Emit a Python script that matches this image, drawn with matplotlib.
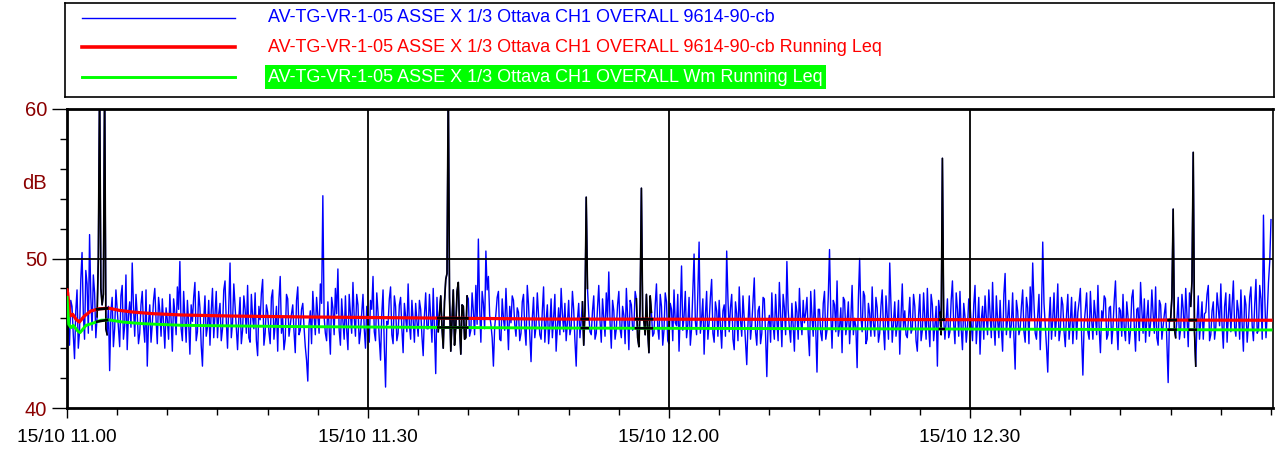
import numpy as np
import matplotlib
matplotlib.use("Agg")
import matplotlib.pyplot as plt
from matplotlib.ticker import MultipleLocator

plt.rcParams["font.family"] = ["Liberation Sans", "DejaVu Sans"]

BLUE, RED, GREEN, MAROON = "#0000ff", "#ff0000", "#00ff00", "#8b0000"

# overall level, one sample every 15 s from 11.00 (dB)
STEP_MIN = 0.25
level_db = [
    47.5, 44.2, 46.8, 43.3, 47.9, 45.1, 50.4, 44.6, 48.3, 51.6, 45.2, 47.7, 46.1, 62.0, 46.9, 62.0, 44.9, 42.5, 47.4, 45.3,
    46.6, 44.1, 48.2, 45.5, 43.9, 47.1, 49.7, 44.8, 46.3, 45.0, 47.8, 44.4, 42.8, 46.9, 45.6, 48.0, 44.3, 46.5, 47.3, 44.0,
    45.9, 47.6, 43.8, 46.4, 48.1, 49.8, 44.5, 46.0, 47.2, 43.6, 45.8, 48.4, 45.1, 46.7, 42.8, 47.5, 45.4, 44.2, 48.0, 46.2,
    44.7, 47.0, 45.3, 48.5, 44.0, 49.7, 45.7, 46.8, 43.9, 47.4, 45.2, 46.6, 48.2, 44.4, 46.1, 47.7, 43.5, 45.9, 48.6, 45.0,
    46.4, 44.3, 47.9, 45.6, 43.8, 48.8, 46.0, 44.6, 47.3, 45.5, 46.9, 43.7, 48.1, 45.2, 47.0, 44.1, 41.8, 46.5, 47.8, 44.9,
    46.2, 48.3, 54.2, 45.0, 47.1, 43.6, 46.7, 48.0, 49.3, 44.2, 45.8, 47.5, 43.9, 46.3, 48.4, 44.8, 46.9, 45.1, 47.6, 44.0,
    45.7, 47.2, 48.8, 44.5, 46.4, 43.2, 47.9, 41.4, 45.6, 48.1, 44.3, 46.8, 45.0, 47.4, 43.7, 46.1, 48.3, 44.6, 45.9, 47.0,
    44.8, 46.6, 43.5, 47.7, 45.3, 46.0, 48.0, 42.3, 45.1, 47.5, 44.0, 48.6, 62.0, 43.8, 47.9, 45.4, 48.4, 43.6, 46.8, 44.7,
    47.3, 45.2, 46.5, 48.2, 51.3, 44.4, 47.0, 50.5, 48.8, 45.6, 42.8, 46.3, 47.8, 44.5, 46.0, 48.0, 43.9, 45.7, 47.2, 44.8,
    46.4, 45.0, 47.6, 44.2, 46.9, 43.1, 47.4, 45.5, 46.2, 44.6, 48.1, 45.8, 44.3, 47.3, 46.0, 43.8, 46.7, 48.0, 45.1, 44.5,
    47.2, 45.4, 46.6, 42.8, 47.0, 45.9, 44.2, 54.1, 46.3, 44.9, 47.5, 45.0, 48.2, 44.4, 46.1, 47.7, 49.1, 44.0, 46.5, 45.3,
    47.8, 44.7, 46.2, 48.0, 43.9, 46.9, 45.4, 47.3, 44.1, 54.7, 45.8, 47.6, 43.7, 46.4, 45.0, 48.3, 44.6, 46.8, 45.2, 47.1,
    44.3, 46.6, 47.9, 45.5, 43.8, 49.5, 46.1, 44.7, 47.4, 45.3, 50.3, 44.9, 51.1, 46.0, 43.6, 47.8, 45.7, 48.6, 44.4, 46.5,
    47.2, 44.0, 46.9, 50.5, 45.1, 47.6, 43.9, 46.3, 48.1, 44.8, 46.0, 42.9, 47.5, 45.6, 48.7, 44.2, 46.8, 45.0, 47.3, 42.1,
    46.2, 47.7, 44.6, 45.9, 48.4, 44.1, 46.7, 49.8, 45.3, 47.0, 43.8, 46.4, 48.0, 44.9, 45.7, 47.4, 43.5, 46.1, 47.9, 42.4,
    46.6, 44.5, 47.8, 45.2, 50.6, 44.0, 46.9, 48.5, 45.4, 43.7, 47.2, 45.8, 44.3, 48.2, 46.0, 42.7, 50.0, 45.1, 47.5, 44.6,
    46.3, 48.1, 44.8, 46.7, 45.0, 47.9, 43.9, 46.2, 49.7, 44.4, 47.1, 45.6, 43.6, 48.3, 46.5, 44.7, 47.4, 45.3, 46.8, 43.8,
    47.6, 45.2, 46.0, 48.0, 44.1, 46.9, 45.5, 42.8, 46.4, 56.7, 44.6, 47.3, 45.1, 48.5, 44.3, 46.6, 47.8, 43.9, 46.1, 45.4,
    47.0, 44.5, 48.2, 45.7, 43.6, 46.8, 47.5, 44.9, 46.3, 48.4, 44.2, 45.9, 47.2, 43.8, 49.0, 46.0, 44.7, 47.7, 42.6, 46.5,
    45.3, 47.9, 44.4, 46.7, 48.1, 49.7, 45.0, 46.2, 43.9, 51.1, 45.6, 42.4, 47.4, 46.0, 44.8, 48.3, 45.2, 46.9, 44.1, 47.6,
    45.8, 44.3, 47.1, 46.4, 48.0, 42.2, 46.6, 45.1, 47.8, 44.6, 46.2, 48.2, 43.7, 45.9, 47.3, 44.9, 46.8, 45.4, 48.5, 43.9,
    46.5, 47.6, 44.5, 46.1, 45.2, 47.9, 43.8, 46.7, 48.4, 45.0, 44.4, 47.2, 45.7, 46.3, 48.1, 44.2, 46.9, 45.5, 47.0, 41.7,
    46.0, 53.3, 44.7, 47.4, 45.3, 46.6, 48.0, 44.1, 46.8, 57.1, 42.8, 47.5, 45.9, 44.6, 46.4, 48.2, 44.9, 47.1, 45.4, 46.7,
    48.3, 44.0, 47.7, 46.2, 45.1, 48.5, 44.8, 46.5, 47.9, 43.8, 46.9, 45.6, 48.1, 44.5, 48.6, 45.2, 47.3, 52.9, 44.7, 48.4,
    52.6,
]
# samples in between (7.5 s after each of the above)
level_db_mid = [
    45.6, 47.2, 44.9, 46.5, 44.0, 48.6, 46.3, 49.2, 45.0, 47.4, 48.9, 44.7, 50.1, 48.0, 47.6, 45.3, 46.8, 46.4, 44.1, 47.9,
    45.2, 47.5, 44.6, 48.9, 46.2, 45.4, 46.8, 47.6, 44.3, 46.9, 45.5, 47.9, 45.7, 44.4, 47.2, 45.9, 47.4, 44.8, 45.6, 46.7,
    44.6, 45.9, 47.3, 44.9, 46.6, 45.3, 47.8, 44.4, 45.7, 46.9, 47.4, 44.5, 47.8, 44.2, 45.9, 44.8, 47.2, 46.5, 44.7, 47.8,
    46.3, 44.5, 47.9, 45.8, 46.9, 44.7, 48.3, 45.2, 46.0, 44.3, 47.5, 45.0, 44.7, 47.6, 45.3, 44.5, 46.8, 47.7, 44.2, 46.9,
    45.1, 47.4, 44.6, 46.8, 47.3, 45.0, 43.9, 47.6, 44.8, 46.3, 45.1, 47.2, 44.9, 46.6, 45.4, 43.2, 45.6, 44.3, 46.2, 47.4,
    45.0, 47.0, 46.1, 44.5, 45.4, 47.4, 44.9, 46.3, 45.2, 47.3, 44.6, 45.2, 47.6, 45.0, 46.1, 47.6, 44.3, 46.4, 45.3, 46.8,
    44.4, 46.6, 45.1, 47.7, 44.6, 46.3, 44.1, 45.8, 47.3, 44.9, 47.5, 44.5, 46.9, 45.3, 47.0, 45.1, 45.6, 47.2, 44.4, 45.8,
    47.2, 44.8, 46.2, 45.3, 47.6, 44.4, 45.2, 47.4, 46.3, 45.4, 47.1, 49.0, 47.4, 45.8, 44.2, 47.8, 45.5, 46.9, 44.6, 47.5,
    44.8, 47.7, 44.9, 45.6, 46.7, 47.8, 45.3, 47.9, 46.2, 44.7, 45.4, 47.4, 44.6, 47.3, 45.2, 45.9, 46.8, 47.5, 45.6, 46.7,
    44.5, 47.1, 45.3, 48.2, 44.9, 46.0, 44.7, 47.7, 44.9, 46.5, 44.4, 46.9, 45.5, 44.7, 47.6, 45.4, 44.9, 46.3, 47.0, 45.7,
    44.9, 47.8, 44.5, 45.9, 44.7, 47.1, 46.5, 48.0, 45.1, 46.5, 44.6, 46.7, 45.8, 47.3, 44.8, 46.0, 45.7, 47.2, 44.6, 46.9,
    45.3, 46.8, 44.3, 46.1, 47.2, 45.2, 47.8, 44.7, 47.0, 46.1, 44.9, 45.2, 47.5, 44.8, 46.9, 45.4, 47.6, 44.2, 47.7, 44.5,
    47.0, 44.5, 45.7, 47.6, 46.4, 45.2, 47.8, 45.6, 44.2, 47.9, 45.8, 47.7, 45.0, 47.3, 46.1, 44.6, 47.4, 45.0, 47.1, 44.8,
    45.5, 46.5, 44.8, 47.3, 46.7, 44.6, 47.1, 44.5, 45.9, 47.5, 44.4, 45.7, 44.6, 47.2, 45.1, 46.5, 44.3, 47.4, 44.9, 45.6,
    44.4, 45.6, 47.6, 44.5, 46.2, 47.6, 44.9, 46.6, 44.4, 45.5, 47.1, 44.6, 45.9, 47.2, 46.4, 45.0, 47.8, 44.8, 45.3, 46.6,
    45.0, 47.0, 44.6, 47.5, 46.3, 47.2, 45.1, 44.8, 46.7, 47.4, 44.9, 47.1, 46.0, 44.9, 45.4, 47.3, 46.1, 47.8, 44.3, 47.0,
    44.8, 45.7, 47.4, 44.4, 46.8, 45.3, 47.5, 44.6, 46.9, 45.7, 44.8, 47.2, 46.1, 45.3, 44.9, 46.1, 45.0, 47.6, 44.5, 46.2,
    44.5, 47.7, 44.6, 45.5, 47.6, 44.5, 46.8, 47.2, 44.9, 46.0, 45.8, 44.7, 47.2, 45.6, 47.7, 44.8, 45.3, 47.0, 44.4, 47.3,
    45.6, 46.9, 44.3, 47.4, 45.9, 44.6, 46.1, 47.9, 44.7, 45.6, 47.5, 44.7, 45.3, 47.6, 44.9, 47.2, 45.6, 44.8, 47.2, 44.9,
    46.8, 45.1, 47.4, 44.3, 45.9, 47.0, 44.6, 47.6, 46.4, 47.0, 44.1, 45.8, 44.6, 47.7, 46.1, 44.5, 47.4, 45.1, 46.3, 44.6,
    47.4, 45.9, 44.6, 47.1, 44.8, 45.6, 47.7, 44.6, 45.9, 47.2, 44.9, 45.3, 46.5, 47.5, 44.6, 46.7, 44.3, 47.2, 45.5, 46.7,
    44.8, 45.3, 47.1, 44.3, 47.4, 45.4, 46.6, 44.5, 46.6, 47.3, 46.0, 44.8, 47.9, 45.0, 44.7, 47.2, 44.6, 46.3, 44.4, 45.8,
    47.4, 45.3, 45.9, 44.6, 47.6, 44.7, 46.2, 47.7, 48.5, 45.1, 45.8, 44.6, 47.1, 46.3, 47.6, 44.5, 46.5, 44.6, 47.7, 45.5,
    45.5, 46.8, 44.4, 47.6, 46.9, 45.4, 47.2, 44.6, 45.6, 47.5, 44.4, 47.4, 45.5, 46.9, 45.0, 48.2, 44.6, 47.5, 46.3, 49.8,
]

# running Leq curves (minutes from 11.00, dB)
red_t = [0, 0.07, 0.3, 0.57, 0.9, 1.23, 1.73, 2.39, 3.22, 4.22, 5.22, 6.55, 8.54, 11.5, 16.5, 23.8, 47.8, 71.7, 95.6, 120]
red_leq = [47.9, 47.7, 46.15, 46.27, 45.93, 45.75, 46.15, 46.49, 46.64, 46.67, 46.53, 46.42, 46.31, 46.22, 46.15, 46.09,
           45.95, 45.93, 45.9, 45.87]
green_t = [0, 0.17, 0.4, 0.63, 1.07, 1.3, 1.9, 2.56, 3.39, 4.22, 5.55, 7.55, 11.5, 16.5, 23.8, 47.8, 71.7, 95.6, 120]
green_leq = [47.4, 45.6, 45.38, 45.53, 45.15, 45.04, 45.53, 45.67, 45.87, 45.89, 45.75, 45.64, 45.53, 45.49, 45.44,
             45.35, 45.31, 45.27, 45.22]

# marked events (drawn in black), minutes from 11.00
event_start = [3.0, 37.0, 51.3, 56.7, 87.0, 109.8, 111.9]
event_end = [4.0, 39.9, 51.9, 58.3, 87.4, 110.5, 112.5]

tick_min = [0, 30, 60, 90]
tick_lbl = ["15/10 11.00", "15/10 11.30", "15/10 12.00", "15/10 12.30"]
legend_lbl = ["AV-TG-VR-1-05 ASSE X 1/3 Ottava CH1 OVERALL 9614-90-cb",
              "AV-TG-VR-1-05 ASSE X 1/3 Ottava CH1 OVERALL 9614-90-cb Running Leq",
              "AV-TG-VR-1-05 ASSE X 1/3 Ottava CH1 OVERALL Wm Running Leq"]

t_main = np.arange(len(level_db)) * STEP_MIN
t_mid = (np.arange(len(level_db_mid)) + 0.5) * STEP_MIN
t = np.concatenate([t_main, t_mid])
lv = np.concatenate([level_db, level_db_mid]).astype(float)
order = np.argsort(t)
t, lv = t[order], lv[order]

mask = np.zeros(len(t), bool)
for s, e in zip(event_start, event_end):
    mask |= (t >= s) & (t <= e)
ev = np.where(mask, lv, np.nan)

W, H = 1276, 450
fig = plt.figure(figsize=(W / 100, H / 100), dpi=100)
ax = fig.add_axes([67 / W, 1 - 408 / H, (1273 - 67) / W, (408 - 109) / H])

ax.plot(t, lv, color=BLUE, lw=1.0, zorder=2)
ax.plot(t, ev, color="black", lw=1.2, zorder=3)
for v in [30, 60, 90]:
    ax.axvline(v, color="black", lw=1.3, zorder=4)
ax.axhline(50, color="black", lw=1.3, zorder=4)
ax.plot(red_t, red_leq, color=RED, lw=2.3, zorder=5)
ax.plot(green_t, green_leq, color=GREEN, lw=2.1, zorder=5)
for s, e in zip(event_start, event_end):
    ax.plot([s, e], np.interp([s, e], red_t, red_leq), color="black", lw=2.0, zorder=6)
    ax.plot([s, e], np.interp([s, e], green_t, green_leq), color="black", lw=1.8, zorder=6)

ax.set_xlim(0, 120.2)
ax.set_ylim(40, 60)
ax.set_xticks(tick_min)
ax.set_xticklabels(tick_lbl, fontsize=13.8)
ax.xaxis.set_minor_locator(MultipleLocator(5))
ax.set_yticks([40, 50, 60])
ax.set_yticklabels(["40", "50", "60"], fontsize=14.5, color=MAROON)
ax.yaxis.set_minor_locator(MultipleLocator(2))
ax.tick_params(axis="y", which="major", length=10.8, width=1.0, pad=3.6)
ax.tick_params(axis="y", which="minor", length=5, width=1.0)
ax.tick_params(axis="x", which="major", length=7.2, width=1.0, pad=8)
ax.tick_params(axis="x", which="minor", length=5, width=1.0)
ax.annotate("dB", xy=(0, 55), xycoords=ax.get_yaxis_transform(), xytext=(-14.4, 0),
            textcoords="offset points", ha="right", va="center", fontsize=14.5, color=MAROON)
for side, lw in [("left", 2.0), ("bottom", 2.0), ("top", 2.0), ("right", 1.2)]:
    ax.spines[side].set_linewidth(lw)
    ax.spines[side].set_color("black")

# legend box
lax = fig.add_axes([65 / W, 1 - 97 / H, (1274 - 65) / W, 94 / H])
lax.set_xlim(65, 1274)
lax.set_ylim(97, 3)
lax.set_xticks([]); lax.set_yticks([])
for sp in lax.spines.values():
    sp.set_linewidth(1.2)
rows = [(BLUE, 1.0, 18), (RED, 2.6, 47), (GREEN, 2.1, 77)]
for (c, lw, yy), lbl in zip(rows, legend_lbl):
    lax.plot([82, 235], [yy, yy], color=c, lw=lw)
    if c == GREEN:
        lax.text(268, yy, lbl, color="white", fontsize=13.0, va="center", ha="left",
                 bbox=dict(facecolor=GREEN, edgecolor="none", pad=2.5))
    else:
        lax.text(268, yy, lbl, color=c, fontsize=13.0, va="center", ha="left")

fig.savefig("out.png", dpi=100)
